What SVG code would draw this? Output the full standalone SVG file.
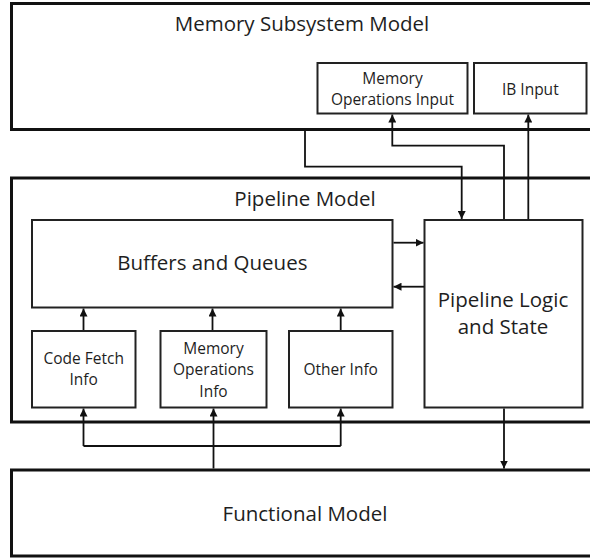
<svg xmlns="http://www.w3.org/2000/svg" width="590" height="558" viewBox="0 0 590 558">
  <style>
    .outer { fill: #ffffff; stroke: #111111; stroke-width: 3; }
    .inner { fill: #ffffff; stroke: #222222; stroke-width: 2; }
    .big { font-family: "Open Sans", "Liberation Sans", sans-serif; font-size: 20.5px; fill: #1e1e1e; text-anchor: middle; }
    .small { font-family: "Open Sans", "Liberation Sans", sans-serif; font-size: 15.5px; fill: #1e1e1e; text-anchor: middle; }
    .wire { fill: none; stroke: #111111; stroke-width: 1.8; marker-end: url(#head); }
    .plain { fill: none; stroke: #111111; stroke-width: 1.8; }
  </style>
  <defs>
    <marker id="head" viewBox="0 0 8 8" refX="8" refY="4" markerWidth="8" markerHeight="8" markerUnits="userSpaceOnUse" orient="auto">
      <path d="M0,0 L8,4 L0,8 z" fill="#111111"/>
    </marker>
  </defs>
  <rect width="590" height="558" fill="#ffffff"/>

  <!-- Memory subsystem model -->
  <g id="memory-subsystem">
    <rect class="outer" x="11.5" y="3.5" width="592" height="126"/>
    <text class="big" x="302" y="31">Memory Subsystem Model</text>
  </g>
  <g id="memory-operations-input">
    <rect class="inner" x="317.5" y="63" width="150" height="50.5"/>
    <text class="small" x="392.5" y="83.5">Memory</text>
    <text class="small" x="392.5" y="105">Operations Input</text>
  </g>
  <g id="ib-input">
    <rect class="inner" x="474" y="63" width="112.5" height="50.5"/>
    <text class="small" x="530.3" y="94.5">IB Input</text>
  </g>

  <!-- Pipeline model -->
  <g id="pipeline-model">
    <rect class="outer" x="11.5" y="178" width="592" height="244"/>
    <text class="big" x="305" y="206">Pipeline Model</text>
  </g>
  <g id="buffers-queues">
    <rect class="inner" x="32" y="220" width="360.5" height="87.5"/>
    <text class="big" x="212.3" y="270">Buffers and Queues</text>
  </g>
  <g id="pipeline-logic">
    <rect class="inner" x="424.5" y="220" width="158" height="187.5"/>
    <text class="big" x="503" y="307">Pipeline Logic</text>
    <text class="big" x="503" y="334">and State</text>
  </g>
  <g id="code-fetch-info">
    <rect class="inner" x="32" y="331" width="103.5" height="76.5"/>
    <text class="small" x="83.7" y="363.5">Code Fetch</text>
    <text class="small" x="83.7" y="385">Info</text>
  </g>
  <g id="memory-operations-info">
    <rect class="inner" x="160.5" y="331" width="106" height="76.5"/>
    <text class="small" x="213.5" y="353.5">Memory</text>
    <text class="small" x="213.5" y="375">Operations</text>
    <text class="small" x="213.5" y="396.7">Info</text>
  </g>
  <g id="other-info">
    <rect class="inner" x="289" y="331" width="103.5" height="76.5"/>
    <text class="small" x="340.7" y="374.5">Other Info</text>
  </g>

  <!-- Functional model -->
  <g id="functional-model">
    <rect class="outer" x="11.5" y="470" width="592" height="86"/>
    <text class="big" x="305" y="521">Functional Model</text>
  </g>

  <!-- Connectors -->
  <g id="connectors">
    <path class="wire" d="M305,131 V166.7 H461.7 V219"/>
    <path class="wire" d="M504,219 V145.7 H392.3 V114.5"/>
    <path class="wire" d="M528.3,219 V114.5"/>
    <path class="wire" d="M393.5,242.7 H423.5"/>
    <path class="wire" d="M424,286.7 H393.5"/>
    <path class="wire" d="M83.5,330 V308.5"/>
    <path class="wire" d="M212.5,330 V308.5"/>
    <path class="wire" d="M340.7,330 V308.5"/>
    <path class="wire" d="M213.5,468.5 V408.5"/>
    <path class="plain" d="M83.5,446 H340.7"/>
    <path class="wire" d="M83.5,446 V408.5"/>
    <path class="wire" d="M340.7,446 V408.5"/>
    <path class="wire" d="M504,408.5 V468.5"/>
  </g>
</svg>
